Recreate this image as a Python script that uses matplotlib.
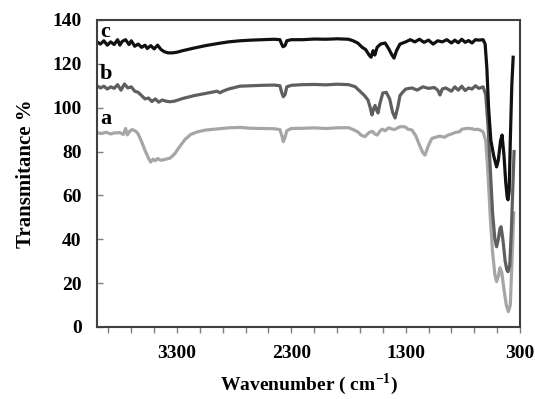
import numpy as np
import matplotlib
matplotlib.use("Agg")
import matplotlib.pyplot as plt
from matplotlib.ticker import FixedLocator

plt.rcParams['font.family'] = ['Liberation Serif', 'DejaVu Serif']
plt.rcParams['font.weight'] = 'bold'
plt.rcParams['mathtext.fontset'] = 'custom'
plt.rcParams['mathtext.rm'] = 'Liberation Serif:bold'
plt.rcParams['mathtext.bf'] = 'Liberation Serif:bold'

# curve a (light gray)
wn_a = [4000, 3960, 3920, 3880, 3850, 3800, 3770, 3750, 3735, 3710, 3690, 3660, 3640, 3610,
        3580, 3550, 3530, 3510, 3490, 3470, 3440, 3400, 3360, 3320, 3280, 3230, 3180, 3120,
        3050, 2950, 2850, 2750, 2650, 2550, 2450, 2400, 2385, 2370, 2355, 2340, 2300, 2200,
        2100, 2000, 1900, 1800, 1760, 1720, 1690, 1656, 1620, 1590, 1570, 1550, 1530, 1507,
        1480, 1450, 1400, 1350, 1306, 1280, 1245, 1210, 1180, 1150, 1131, 1110, 1090, 1070,
        1040, 1000, 960, 930, 900, 860, 830, 807, 760, 720, 690, 667, 640, 623, 600, 580,
        560, 540, 520, 505, 490, 475, 460, 440, 420, 402, 385, 370, 355]
t_a = [88.6, 88.2, 88.8, 88.0, 88.5, 88.6, 87.8, 90.5, 87.6, 89.5, 90.0, 89.2, 88.0, 84.5,
       80.5, 77.0, 75.2, 76.5, 75.8, 76.8, 76.0, 76.5, 77.0, 79.0, 82.0, 85.5, 87.8, 89.0,
       89.8, 90.3, 90.8, 91.0, 90.6, 90.5, 90.4, 90.0, 87.5, 84.5, 86.5, 89.5, 90.5, 90.6,
       90.8, 90.5, 90.8, 90.9, 90.0, 89.0, 87.5, 86.8, 88.7, 89.2, 88.0, 87.5, 89.0, 90.2,
       89.5, 90.8, 90.0, 91.3, 91.3, 90.2, 89.8, 87.0, 83.0, 79.5, 78.4, 81.5, 84.0, 86.0,
       86.5, 87.0, 86.5, 87.5, 88.0, 88.8, 89.0, 90.2, 90.6, 90.4, 90.0, 90.2, 89.5, 89.0,
       85.0, 70.0, 50.0, 34.0, 24.0, 20.7, 23.0, 27.0, 25.0, 17.0, 10.0, 7.0, 10.0, 30.0, 52.0]

# curve b (dark gray)
wn_b = [4000, 3970, 3940, 3910, 3880, 3850, 3820, 3790, 3760, 3730, 3700, 3670, 3640, 3610,
        3580, 3550, 3520, 3490, 3460, 3430, 3400, 3360, 3320, 3250, 3150, 3050, 2950, 2924,
        2900, 2850, 2750, 2650, 2550, 2450, 2400, 2385, 2370, 2355, 2340, 2300, 2200, 2100,
        2000, 1900, 1800, 1743, 1700, 1660, 1630, 1610, 1595, 1580, 1568, 1555, 1542, 1525,
        1500, 1470, 1440, 1415, 1393, 1370, 1350, 1332, 1300, 1245, 1200, 1150, 1100, 1050,
        1020, 1000, 980, 950, 900, 870, 840, 810, 780, 750, 720, 690, 660, 623, 600, 580,
        560, 540, 520, 505, 490, 475, 466, 450, 430, 415, 405, 390, 375, 360, 352]
t_b = [110.0, 109.0, 109.8, 108.5, 109.5, 108.8, 110.5, 108.0, 110.8, 109.0, 109.5, 107.5,
       107.0, 105.5, 104.0, 104.4, 102.8, 104.0, 102.5, 103.5, 103.0, 102.7, 103.0, 104.2,
       105.5, 106.5, 107.5, 106.8, 107.5, 108.5, 109.8, 110.0, 110.2, 110.3, 110.0, 107.0,
       105.0, 106.0, 109.5, 110.2, 110.5, 110.6, 110.4, 110.7, 110.5, 109.6, 107.5, 105.5,
       103.5, 100.0, 96.7, 99.5, 101.0, 99.0, 97.6, 102.0, 106.7, 107.0, 104.0, 98.0, 95.3,
       100.0, 105.5, 106.7, 108.5, 109.0, 108.0, 109.5, 108.8, 109.2, 108.0, 105.8, 108.5,
       109.0, 107.5, 109.5, 108.0, 109.8, 107.8, 109.0, 108.5, 110.0, 108.8, 109.5, 106.0,
       92.0, 72.0, 52.0, 40.0, 36.6, 40.0, 45.0, 45.7, 40.0, 30.0, 26.0, 25.2, 28.0, 45.0,
       68.0, 80.0]

# curve c (black)
wn_c = [4000, 3970, 3940, 3910, 3880, 3850, 3820, 3800, 3780, 3750, 3720, 3700, 3670, 3640,
        3610, 3580, 3560, 3530, 3500, 3470, 3440, 3410, 3380, 3340, 3300, 3250, 3150, 3050,
        2950, 2850, 2750, 2650, 2550, 2450, 2400, 2385, 2373, 2355, 2340, 2300, 2200, 2100,
        2000, 1900, 1800, 1760, 1720, 1680, 1650, 1620, 1603, 1585, 1570, 1550, 1520, 1480,
        1450, 1420, 1402, 1380, 1350, 1300, 1260, 1220, 1180, 1140, 1100, 1060, 1020, 980,
        940, 900, 870, 840, 810, 780, 750, 720, 690, 660, 623, 605, 590, 575, 555, 530, 505,
        490, 470, 457, 440, 425, 412, 405, 395, 385, 372, 360]
t_c = [130.0, 129.0, 130.5, 128.5, 130.0, 128.8, 131.0, 128.5, 130.2, 131.0, 128.8, 130.5,
       128.0, 129.0, 127.5, 128.5, 127.0, 128.3, 126.8, 128.5, 126.5, 125.5, 125.0, 125.0,
       125.3, 126.0, 127.2, 128.3, 129.2, 130.0, 130.5, 130.8, 131.0, 131.2, 131.0, 129.0,
       127.8, 128.3, 130.5, 131.0, 131.0, 131.3, 131.2, 131.4, 131.2, 130.5, 129.5, 127.5,
       126.5, 124.0, 123.0, 126.0, 124.0, 127.5, 129.0, 129.5, 127.0, 124.0, 122.6, 126.0,
       129.0, 130.0, 131.0, 130.0, 131.2, 129.8, 130.8, 129.0, 130.5, 130.0, 131.0, 129.5,
       130.8, 129.6, 131.2, 129.8, 130.6, 129.5, 131.0, 130.8, 131.0, 129.0, 118.0, 100.0,
       85.0, 78.0, 73.0, 76.0, 85.0, 87.5, 78.0, 66.0, 59.0, 58.0, 62.0, 85.0, 110.0, 123.0]

curve_labels = ['a', 'b', 'c']
label_pos = [95, 115.5, 134.5]
x_ticks = [3300, 2300, 1300, 300]
y_ticks = [0, 20, 40, 60, 80, 100, 120, 140]

fig = plt.figure(figsize=(5.35, 3.99), dpi=100)
ax = fig.add_axes([0.1813, 0.1805, 0.7907, 0.7695])

ax.plot(wn_a, t_a, color='#a6a6a6', lw=2.3, solid_joinstyle='round')
ax.plot(wn_b, t_b, color='#5f5f5f', lw=2.3, solid_joinstyle='round')
ax.plot(wn_c, t_c, color='#111111', lw=2.3, solid_joinstyle='round')

for lab, yp in zip(curve_labels, label_pos):
    ax.text(3975, yp, lab, fontsize=16, fontweight='bold', ha='left', va='center')

ax.set_xlim(4000, 300)
ax.set_ylim(0, 140)
ax.xaxis.set_major_locator(FixedLocator(x_ticks))
ax.xaxis.set_minor_locator(FixedLocator(list(range(500, 4000, 200))))
ax.set_yticks(y_ticks)

for s in ax.spines.values():
    s.set_color('#404040')
    s.set_linewidth(1.5)

ax.tick_params(axis='x', which='both', direction='out', length=4, width=1, color='#808080',
               pad=9, labelsize=14)
ax.tick_params(axis='y', which='major', direction='in', length=4, width=1, color='#808080',
               pad=11, labelsize=14)
for t in ax.get_xticklabels() + ax.get_yticklabels():
    t.set_fontweight('bold')

ax.set_xlabel(r'Wavenumber ( cm$^{-1}$)', fontsize=14, fontweight='bold')
ax.set_ylabel('Transmitance %', fontsize=15, fontweight='bold')
ax.xaxis.set_label_coords(0.5, -0.145)
ax.yaxis.set_label_coords(-0.145, 0.5)

fig.savefig('out.png', dpi=100)
